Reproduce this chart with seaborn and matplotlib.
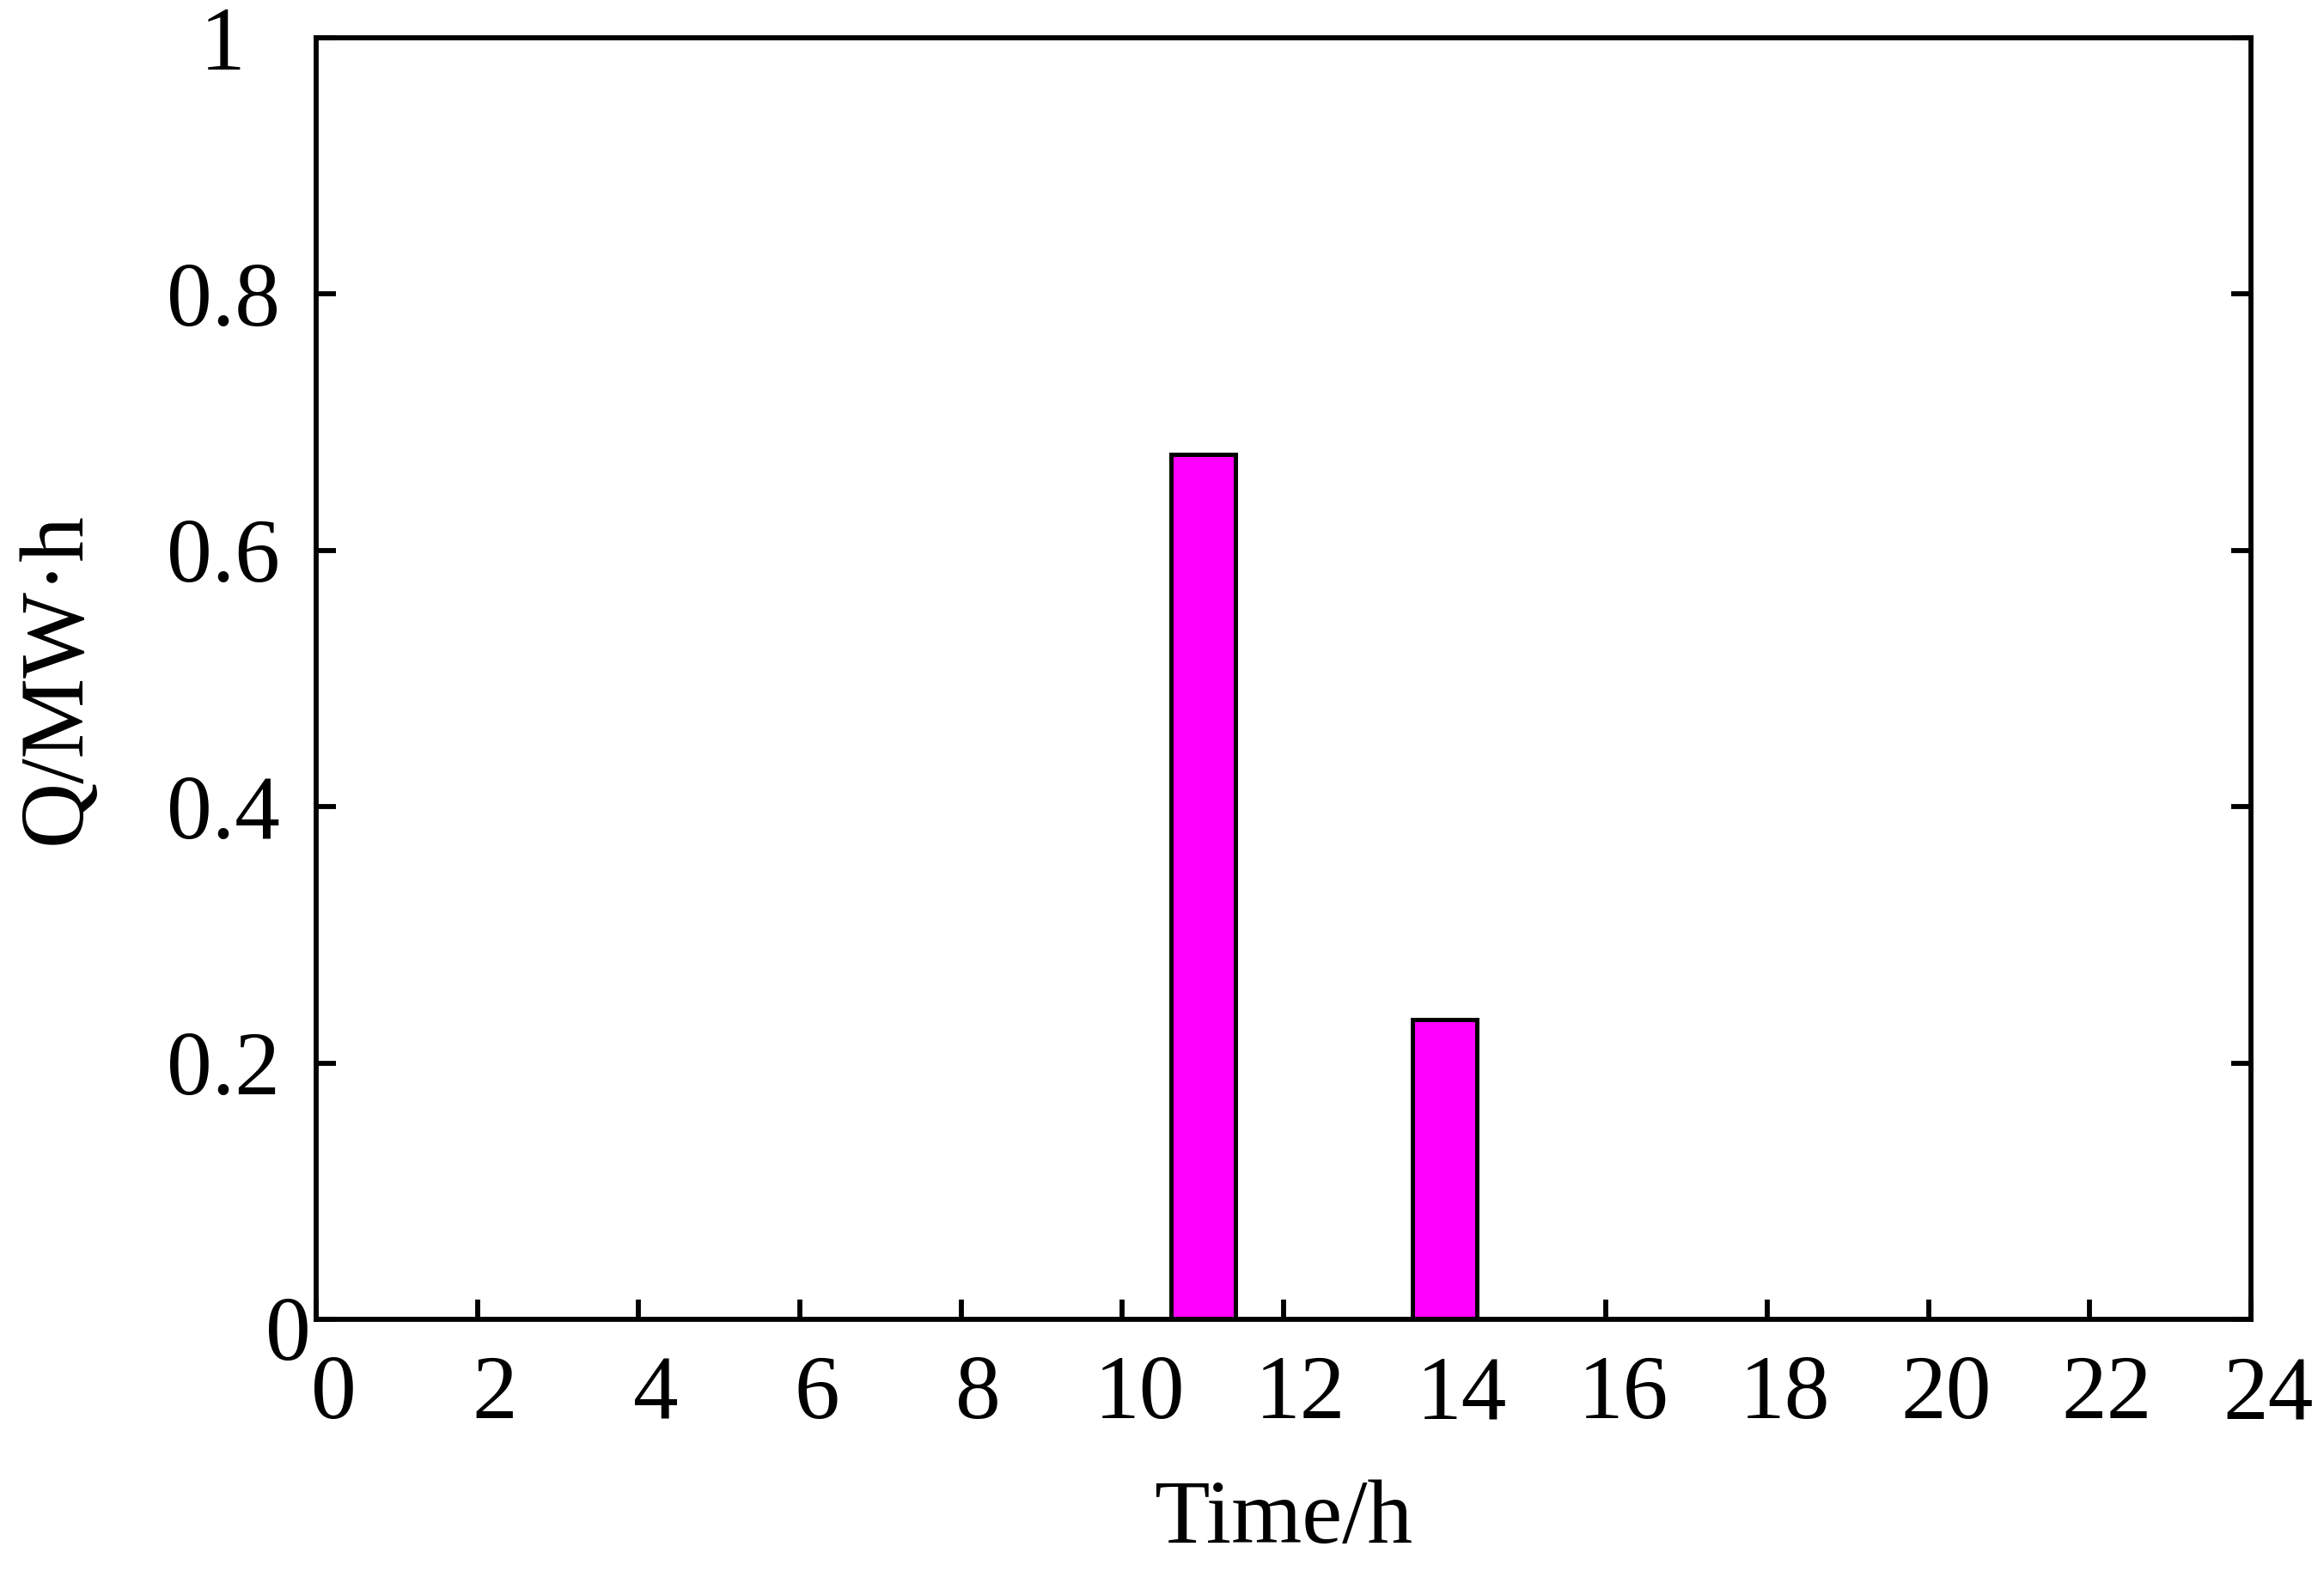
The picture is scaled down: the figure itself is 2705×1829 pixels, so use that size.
import matplotlib
matplotlib.use("Agg")
import matplotlib.pyplot as plt
import matplotlib.transforms as mtransforms
import seaborn as sns
import pandas as pd

hours = list(range(1, 25))
q_values = [0, 0, 0, 0, 0, 0, 0, 0, 0, 0, 0.675, 0, 0, 0.234,
            0, 0, 0, 0, 0, 0, 0, 0, 0, 0]
x_ticks = [0, 2, 4, 6, 8, 10, 12, 14, 16, 18, 20, 22, 24]
y_ticks = [0, 0.2, 0.4, 0.6, 0.8, 1]
y_ticklabels = ["0", "0.2", "0.4", "0.6", "0.8", "1"]

sns.set_theme(style="white")
plt.rcParams['font.family'] = ['Liberation Serif', 'DejaVu Serif']

df = pd.DataFrame({"hour": hours, "q": q_values})

DPI = 200
fig = plt.figure(figsize=(2705 / DPI, 1829 / DPI), dpi=DPI)
ax = fig.add_axes([0.1360, 0.1602, 0.8326, 0.8158])

nz = df[df["q"] > 0]
sns.barplot(data=nz, x="hour", y="q", native_scale=True,
            color="#ff00ff", saturation=1, edgecolor="black", linewidth=1.8, ax=ax)
bar_w = 0.8
for p in ax.patches:
    c = p.get_x() + p.get_width() / 2
    p.set_width(bar_w)
    p.set_x(c - bar_w / 2)

ax.set_xlim(0, 24)
ax.set_ylim(0, 1)
ax.set_xticks(x_ticks)
ax.set_xticklabels([str(t) for t in x_ticks])
ax.set_yticks(y_ticks)
ax.set_yticklabels(y_ticklabels)

for s in ax.spines.values():
    s.set_visible(True)
    s.set_color("black")
    s.set_linewidth(2.1)

ax.tick_params(axis="both", which="both", direction="in", length=8.3, width=2.1,
               labelsize=38, colors="black")
ax.tick_params(axis="y", right=True, left=True, pad=39)
ax.tick_params(axis="x", bottom=True, top=False, pad=15)

x_off = mtransforms.ScaledTranslation(0.10, 0, fig.dpi_scale_trans)
for lab in ax.get_xticklabels():
    lab.set_transform(lab.get_transform() + x_off)

for lab in ax.get_yticklabels():
    lab.set_horizontalalignment("center")
zero_off = mtransforms.ScaledTranslation(0.38, -0.05, fig.dpi_scale_trans)
ylabs = ax.get_yticklabels()
ylabs[0].set_transform(ylabs[0].get_transform() + zero_off)

ax.set_xlabel("Time/h", fontsize=38, color="black")
ax.set_ylabel("Q/MW·h", fontsize=38, color="black")
ax.xaxis.set_label_coords(0.5, -0.125)
ax.yaxis.set_label_coords(-0.112, 0.5)

fig.savefig("out.png", dpi=DPI)
